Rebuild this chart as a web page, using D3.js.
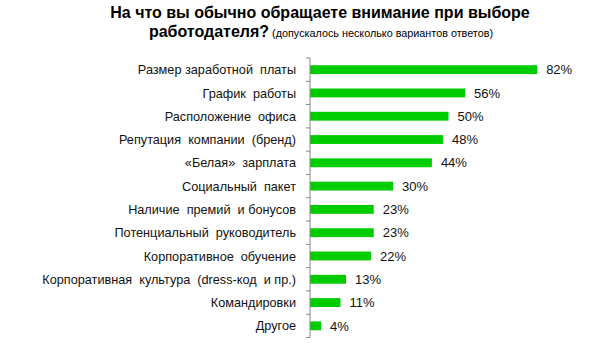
<!DOCTYPE html>
<html><head><meta charset="utf-8">
<script src="https://cdn.jsdelivr.net/npm/d3@7"></script>
<style>body{margin:0;background:#fff}text{font-family:"Liberation Sans",Arial,sans-serif}</style>
</head><body><svg id="c" width="600" height="345"></svg>
<script>
const categories = ["Размер заработной  платы","График  работы","Расположение  офиса","Репутация  компании  (бренд)","«Белая»  зарплата","Социальный  пакет","Наличие  премий  и бонусов","Потенциальный  руководитель","Корпоративное  обучение","Корпоративная  культура  (dress-код  и пр.)","Командировки","Другое"];
const values = [82,56,50,48,44,30,23,23,22,13,11,4];
const valueLabels = ["82%","56%","50%","48%","44%","30%","23%","23%","22%","13%","11%","4%"];
const titleLine1 = "На что вы обычно обращаете внимание при выборе";
const titleLine2 = "работодателя?";
const titleNote = " (допускалось несколько вариантов ответов)";

const svg = d3.select("#c");
const x0 = 310, yTop = 58, yBottom = 337.5;
const x = d3.scaleLinear().domain([0,100]).range([x0, x0 + 277]);
const y = d3.scaleBand().domain(categories).range([yTop, yBottom]).paddingInner(0.62).paddingOuter(0.31);
const yb = d3.scaleBand().domain(categories).range([yTop, yBottom]);

// title
svg.append("text").attr("x", 320).attr("y", 18).attr("text-anchor","middle")
  .style("font-weight","bold").style("font-size","16px").text(titleLine1);
const t2 = svg.append("text").attr("x", 321).attr("y", 37).attr("text-anchor","middle");
t2.append("tspan").style("font-weight","bold").style("font-size","16px").text(titleLine2);
t2.append("tspan").style("font-size","10.8px").attr("xml:space","preserve").text(titleNote);

// bars
svg.append("g").selectAll("rect").data(values).join("rect")
  .attr("x", x(0)).attr("y", (d,i)=>y(categories[i]))
  .attr("width", d=>x(d)-x(0)).attr("height", y.bandwidth())
  .attr("fill","#00cc00");

// value labels
svg.append("g").selectAll("text").data(values).join("text")
  .attr("x", d=>x(d)+9).attr("y", (d,i)=>y(categories[i])+y.bandwidth()/2)
  .attr("dy","0.36em").style("font-size","13px").attr("fill","#111").text((d,i)=>valueLabels[i]);

// axis
const ax = svg.append("g").attr("transform",`translate(${x0},0)`);
ax.append("line").attr("x1",0).attr("x2",0).attr("y1",yTop).attr("y2",yBottom).attr("stroke","#888");
const ticks = yb.domain().map(c=>yb(c)).concat([yBottom]);
ax.selectAll("line.t").data(ticks).join("line").attr("class","t")
  .attr("x1",-4).attr("x2",0).attr("y1",d=>d).attr("y2",d=>d).attr("stroke","#888");

// category labels
svg.append("g").selectAll("text").data(categories).join("text")
  .attr("x", 296).attr("y", d=>yb(d)+yb.bandwidth()/2).attr("dy","0.36em")
  .attr("text-anchor","end").attr("xml:space","preserve").style("font-size","12.7px").attr("fill","#111")
  .text(d=>d);
</script></body></html>
